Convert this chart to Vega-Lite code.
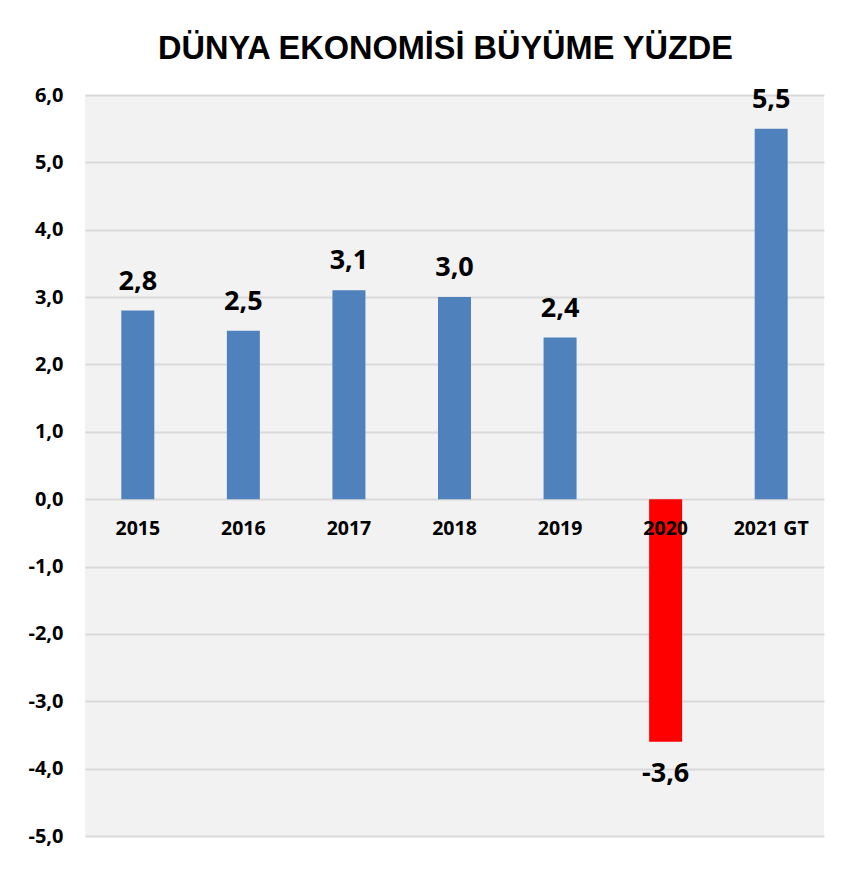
{
  "$schema": "https://vega.github.io/schema/vega-lite/v6.json",
  "autosize": {"type": "none"},
  "width": 739,
  "height": 741,
  "padding": {"left": 85, "top": 95, "right": 21, "bottom": 42},
  "background": "white",
  "title": {
    "text": "DÜNYA EKONOMİSİ BÜYÜME YÜZDE",
    "font": "Liberation Sans",
    "fontSize": 32.5,
    "fontWeight": "bold",
    "color": "#000000",
    "anchor": "middle",
    "frame": "group",
    "baseline": "alphabetic",
    "offset": -6,
    "dx": -9
  },
  "config": {
    "locale": {"number": {"decimal": ",", "thousands": ".", "grouping": [3], "currency": ["", " TL"], "minus": "-"}},
    "view": {"fill": "#f2f2f2", "stroke": null},
    "axis": {"labelFont": "Open Sans", "labelFontWeight": "bold", "labelColor": "#000000"}
  },
  "data": {
    "values": [
      {"year": "2015", "value": 2.8},
      {"year": "2016", "value": 2.5},
      {"year": "2017", "value": 3.1},
      {"year": "2018", "value": 3.0},
      {"year": "2019", "value": 2.4},
      {"year": "2020", "value": -3.6},
      {"year": "2021 GT", "value": 5.5}
    ]
  },
  "encoding": {
    "x": {
      "field": "year",
      "type": "nominal",
      "sort": null,
      "scale": {"paddingInner": 0.6875, "paddingOuter": 0.344},
      "axis": {
        "title": null,
        "orient": "bottom",
        "offset": -336.8,
        "domain": false,
        "ticks": false,
        "grid": false,
        "labelAngle": 0,
        "labelFontSize": 19.5,
        "labelPadding": 20,
        "labelBaseline": "top",
        "zindex": 2
      }
    },
    "y": {
      "field": "value",
      "type": "quantitative",
      "scale": {"domain": [-5, 6], "nice": false, "zero": false},
      "axis": {
        "title": null,
        "values": [-5, -4, -3, -2, -1, 0, 1, 2, 3, 4, 5, 6],
        "format": ".1f",
        "domain": false,
        "ticks": false,
        "grid": true,
        "gridColor": "#d9d9d9",
        "gridWidth": 2,
        "labelFontSize": 20,
        "labelPadding": 22,
        "zindex": 0
      }
    }
  },
  "layer": [
    {
      "mark": {"type": "bar"},
      "encoding": {
        "color": {
          "condition": {"test": "datum.value < 0", "value": "#ff0000"},
          "value": "#4f81bd"
        }
      }
    },
    {
      "transform": [{"filter": "datum.value >= 0"}],
      "mark": {"type": "text", "font": "Open Sans", "fontWeight": "bold", "fontSize": 27, "baseline": "alphabetic", "dy": -21, "color": "#000000"},
      "encoding": {"text": {"field": "value", "type": "quantitative", "format": ".1f"}}
    },
    {
      "transform": [{"filter": "datum.value < 0"}],
      "mark": {"type": "text", "font": "Open Sans", "fontWeight": "bold", "fontSize": 27, "baseline": "alphabetic", "dy": 40, "color": "#000000"},
      "encoding": {"text": {"field": "value", "type": "quantitative", "format": ".1f"}}
    }
  ]
}
